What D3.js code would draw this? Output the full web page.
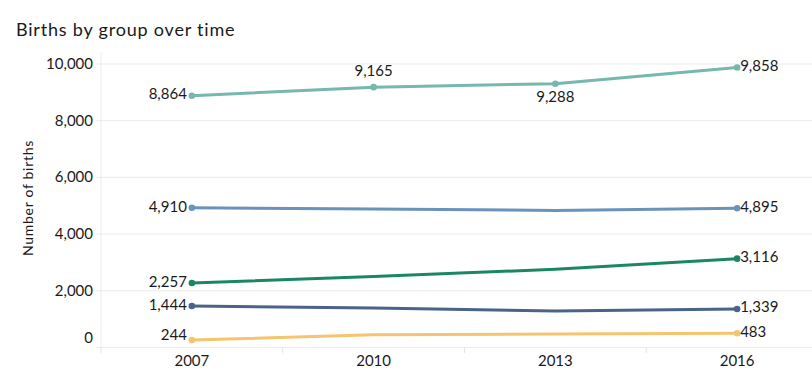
<!DOCTYPE html>
<html>
<head>
<meta charset="utf-8">
<script src="https://cdn.jsdelivr.net/npm/d3@7"></script>
<style>
  html, body { margin: 0; padding: 0; background: #fff; }
  svg { display: block; font-family: Lato, "Open Sans", sans-serif; }
</style>
</head>
<body>
<svg id="chart" width="812" height="385"></svg>
<script>
const years = ["2007", "2010", "2013", "2016"];
const seriesNames = ["Group A", "Group B", "Group C", "Group D", "Group E"];
const seriesA = [8864, 9165, 9288, 9858];
const seriesB = [4910, 4870, 4815, 4895];
const seriesC = [2257, 2490, 2740, 3116];
const seriesD = [1444, 1375, 1270, 1339];
const seriesE = [244, 435, 455, 483];
const seriesColors = ["#76b7ae", "#6a93bb", "#1b8760", "#4a6389", "#f5c46e"];
const yTicks = [0, 2000, 4000, 6000, 8000, 10000];
const title = "Births by group over time";
const yTitle = "Number of births";

(function () {
const allSeries = [seriesA, seriesB, seriesC, seriesD, seriesE];
const fmt = d3.format(",");

const svg = d3.select("#chart");
const mLeft = 101, mRight = 828, mTop = 63.5, mBottom = 347;

const x = d3.scaleBand().domain(years).range([mLeft, mRight]).padding(0);
const cx = d => x(d) + x.bandwidth() / 2;
const y = d3.scaleLinear().domain([0, 10000]).range([mBottom, mTop]);

// title
svg.append("text").attr("x", 16).attr("y", 36)
  .attr("font-size", 18).attr("letter-spacing", 0.8).attr("fill", "#1a1a1a").text(title);

// horizontal gridlines + y axis
const yAxis = d3.axisLeft(y).tickValues(yTicks).tickFormat(fmt)
  .tickSize(-(812 - 96)).tickPadding(4);
const gy = svg.append("g").attr("transform", `translate(96,0)`).call(yAxis);
gy.select(".domain").remove();
gy.selectAll(".tick line").attr("stroke", "#ececec");
gy.selectAll(".tick text").attr("font-size", 15).attr("fill", "#1a1a1a")
  .attr("font-family", "Lato, sans-serif")
  .attr("x", -3)
  .attr("dy", d => d === 0 ? "-0.32em" : "0.32em");

// vertical left line
svg.append("line").attr("x1", mLeft).attr("x2", mLeft).attr("y1", 52).attr("y2", mBottom)
  .attr("stroke", "#ececec");

// x axis
const xAxis = d3.axisBottom(x).tickSize(0).tickPadding(8);
const gx = svg.append("g").attr("transform", `translate(0,${mBottom})`).call(xAxis);
gx.select(".domain").remove();
gx.selectAll(".tick text").attr("font-size", 15).attr("fill", "#1a1a1a")
  .attr("font-family", "Lato, sans-serif");
// band boundary ticks
svg.append("g").selectAll("line").data(years).join("line")
  .attr("x1", d => x(d)).attr("x2", d => x(d))
  .attr("y1", mBottom).attr("y2", mBottom + 6)
  .attr("stroke", "#e4e4e4");

// y title
svg.append("text")
  .attr("transform", `translate(33,198) rotate(-90)`)
  .attr("text-anchor", "middle").attr("font-size", 14).attr("letter-spacing", 0.7)
  .attr("fill", "#1a1a1a")
  .text(yTitle);

// lines
const line = d3.line().x((d, i) => cx(years[i])).y(d => y(d)).curve(d3.curveLinear);
allSeries.forEach((s, k) => {
  svg.append("path").datum(s).attr("d", line)
    .attr("fill", "none").attr("stroke", seriesColors[k]).attr("stroke-width", 3)
    .attr("stroke-linecap", "round").attr("stroke-linejoin", "round");
});

// dots and labels
allSeries.forEach((s, k) => {
  const idx = k === 0 ? [0, 1, 2, 3] : [0, 3];
  svg.append("g").selectAll("circle").data(idx).join("circle")
    .attr("cx", i => cx(years[i])).attr("cy", i => y(s[i])).attr("r", 3.3)
    .attr("fill", seriesColors[k]);
  const lbl = svg.append("g").attr("font-size", 15).attr("fill", "#1a1a1a");
  idx.forEach(i => {
    const t = lbl.append("text").text(fmt(s[i]));
    const px = cx(years[i]), py = y(s[i]);
    if (i === 0) {
      t.attr("x", px - 5).attr("y", py).attr("text-anchor", "end")
        .attr("dy", s[i] < 500 ? "0.0em" : "0.25em");
    } else if (i === 3) {
      t.attr("x", px + 3).attr("y", py).attr("text-anchor", "start").attr("dy", "0.22em");
    } else if (i === 1) {
      t.attr("x", px).attr("y", py - 11).attr("text-anchor", "middle");
    } else {
      t.attr("x", px).attr("y", py + 18).attr("text-anchor", "middle");
    }
  });
});
})();
</script>
</body>
</html>
